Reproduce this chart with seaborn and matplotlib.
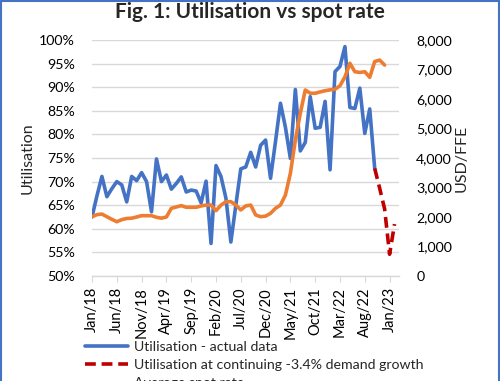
import numpy as np
import pandas as pd
import matplotlib
matplotlib.use("Agg")
import matplotlib.pyplot as plt
from matplotlib.lines import Line2D
import seaborn as sns

# ---------------- data ----------------
tick_labels = ["Jan/18", "Jun/18", "Nov/18", "Apr/19", "Sep/19", "Feb/20", "Jul/20",
               "Dec/20", "May/21", "Oct/21", "Mar/22", "Aug/22", "Jan/23"]

utilisation_actual = [
    62.5, 67.0, 71.1, 66.8, 68.5, 70.0, 69.3, 65.7, 71.1, 70.2,
    71.9, 70.0, 63.6, 74.8, 70.0, 71.4, 68.4, 69.6, 71.0, 67.8,
    68.2, 68.0, 65.5, 70.1, 56.9, 73.4, 71.1, 66.5, 57.2, 65.0,
    72.7, 73.1, 76.2, 73.1, 77.7, 78.8, 70.7, 78.5, 86.6, 81.5,
    74.9, 89.5, 76.5, 78.3, 88.0, 81.3, 81.5, 87.0, 72.5, 93.3,
    94.4, 98.6, 85.7, 85.5, 89.8, 80.2, 85.4, 72.8]

utilisation_projection = [72.8, 68.6, 64.2, 54.6, 61.0]   # starts at month index 57

spot_rate = [
    2010, 2080, 2100, 2010, 1920, 1840, 1910, 1950, 1960, 2000,
    2045, 2045, 2045, 1990, 1960, 2000, 2295, 2340, 2385, 2330,
    2330, 2330, 2375, 2405, 2405, 2215, 2400, 2520, 2520, 2405,
    2240, 2375, 2405, 2070, 2010, 2030, 2125, 2295, 2405, 2745,
    3480, 4610, 5515, 6305, 6195, 6195, 6240, 6280, 6310, 6330,
    6450, 6750, 7210, 6925, 6900, 6925, 6735, 7270, 7320, 7150]

proj_start = len(utilisation_actual) - 1

df_act = pd.DataFrame({"m": np.arange(len(utilisation_actual)), "u": utilisation_actual})
df_proj = pd.DataFrame({"m": np.arange(proj_start, proj_start + len(utilisation_projection)),
                        "u": utilisation_projection})
df_spot = pd.DataFrame({"m": np.arange(len(spot_rate)), "s": spot_rate})

BLUE = "#4472C4"
RED = "#C00000"
ORANGE = "#ED7D31"
GRID = "#D9D9D9"
TXT = "#000000"

sns.set_style("white")
plt.rcParams["font.family"] = ["Lato", "DejaVu Sans"]

fig = plt.figure(figsize=(5.0, 3.81), dpi=100)
ax = fig.add_axes([0.184, 0.2756, 0.614, 0.6194])
ax2 = ax.twinx()

sns.lineplot(data=df_act, x="m", y="u", ax=ax, color=BLUE, lw=2.6, zorder=3)
sns.lineplot(data=df_proj, x="m", y="u", ax=ax, color=RED, lw=2.6, zorder=3)
ax.lines[-1].set_dashes([3.0, 1.6])
sns.lineplot(data=df_spot, x="m", y="s", ax=ax2, color=ORANGE, lw=2.6, zorder=2)

ax2.patch.set_visible(False)

ax.set_ylim(50, 100)
ax.set_yticks(np.arange(50, 101, 5))
ax.set_yticklabels([f"{v}%" for v in range(50, 101, 5)])
ax2.set_ylim(0, 8000)
ax2.set_yticks(np.arange(0, 8001, 1000))
ax2.set_yticklabels([f"{v:,}" for v in range(0, 8001, 1000)])

ax.set_xlim(0, 61.9)
ax.set_xticks(np.arange(0, 61, 5))
ax.set_xticklabels(tick_labels, rotation=90)

ax.grid(axis="y", color=GRID, lw=1.0)
ax.grid(axis="x", visible=False)
ax.set_axisbelow(True)
for a in (ax, ax2):
    for s in ("top", "right", "left", "bottom"):
        a.spines[s].set_visible(False)
ax.spines["bottom"].set_visible(True)
ax.spines["bottom"].set_color(GRID)
ax.spines["bottom"].set_linewidth(1.0)

ax.tick_params(axis="x", bottom=True, length=4, color=GRID, labelsize=10.5, pad=4, labelcolor=TXT)
ax.tick_params(axis="y", left=False, labelsize=10.2, pad=9, labelcolor=TXT)
ax2.tick_params(axis="y", right=False, labelsize=10.2, pad=9, labelcolor=TXT)

ax.set_xlabel("")
ax.set_ylabel("Utilisation", fontsize=11.5, labelpad=3)
ax2.set_ylabel("USD/FFE", fontsize=11.5, labelpad=2)

fig.suptitle("Fig. 1: Utilisation vs spot rate", x=0.5, y=0.995, fontsize=15,
             fontweight="bold", va="top")

handles = [Line2D([], [], color=BLUE, lw=2.6),
           Line2D([], [], color=RED, lw=2.6, dashes=[3.0, 1.6]),
           Line2D([], [], color=ORANGE, lw=2.6)]
labels = ["Utilisation - actual data",
          "Utilisation at continuing -3.4% demand growth",
          "Average spot rate"]
fig.legend(handles, labels, loc="upper left", bbox_to_anchor=(0.17, 0.106),
           frameon=False, fontsize=10.2, handlelength=3.0, handletextpad=0.45,
           labelspacing=0.45, borderaxespad=0.0, borderpad=0.0)

# chart border
fig.add_artist(Line2D([0.002, 0.002], [0, 0.998], transform=fig.transFigure, color=BLUE, lw=1.5))
fig.add_artist(Line2D([0.997, 0.997], [0, 0.998], transform=fig.transFigure, color=BLUE, lw=1.5))
fig.add_artist(Line2D([0.002, 0.997], [0.998, 0.998], transform=fig.transFigure, color=BLUE, lw=1.5))

fig.savefig("out.png", dpi=100)
